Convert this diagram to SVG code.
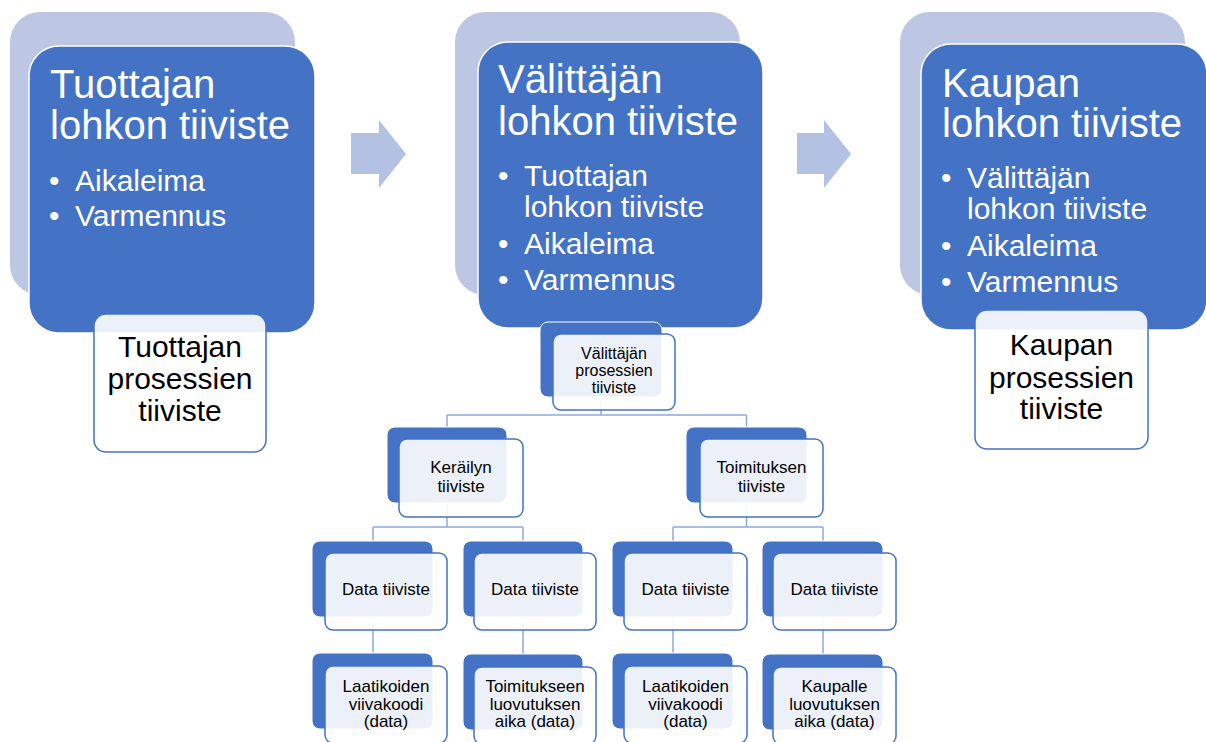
<svg xmlns="http://www.w3.org/2000/svg" width="1206" height="742" viewBox="0 0 1206 742">
<style>
.back{fill:#bdc7e3}
.front{fill:#4472c4;stroke:#ffffff;stroke-width:1.5}
.arrow{fill:#b3c1e3}
.proc{fill:#ffffff;fill-opacity:0.9;stroke:#4472c4;stroke-width:1.5}
.dark{fill:#4472c4;stroke:#ffffff;stroke-width:1}
.lite{fill:#ffffff;fill-opacity:0.9;stroke:#4472c4;stroke-width:1.5}
.title{font-family:"Liberation Sans",Arial,sans-serif;font-size:40px;fill:#ffffff}
.bul{font-family:"Liberation Sans",Arial,sans-serif;font-size:30px;fill:#ffffff}
.ptxt{font-family:"Liberation Sans",Arial,sans-serif;font-size:30px;fill:#000000;text-anchor:middle}
.stxt{font-family:"Liberation Sans",Arial,sans-serif;font-size:17px;fill:#000000;text-anchor:middle}
.conn{fill:none;stroke:#8eaadb;stroke-width:1.5}
</style>

<g id="arrows">
<polygon class="arrow" points="351,133 379,133 379,120 406,154 379,188 379,174 351,174"/>
<polygon class="arrow" points="797,133 824,133 824,120 851,154 824,188 824,174 797,174"/>
</g>

<g id="tuottajan-lohko">
<rect class="back" x="10" y="12" width="285" height="283" rx="30"/>
<rect class="front" x="29" y="46" width="286" height="287" rx="30"/>
<text class="title" x="50" y="98">Tuottajan</text>
<text class="title" x="50" y="139">lohkon tiiviste</text>
<text class="bul" x="49" y="191">•</text>
<text class="bul" x="75" y="191">Aikaleima</text>
<text class="bul" x="49" y="226">•</text>
<text class="bul" x="75" y="226">Varmennus</text>
</g>
<g id="tuottajan-prosessit">
<rect class="proc" x="94" y="314" width="172" height="138" rx="12"/>
<text class="ptxt" x="180" y="357">Tuottajan</text>
<text class="ptxt" x="180" y="389">prosessien</text>
<text class="ptxt" x="180" y="421">tiiviste</text>
</g>

<g id="valittajan-lohko">
<rect class="back" x="455" y="12" width="285" height="283" rx="30"/>
<rect class="front" x="478" y="42" width="285" height="286" rx="30"/>
<text class="title" x="498" y="93">Välittäjän</text>
<text class="title" x="498" y="135">lohkon tiiviste</text>
<text class="bul" x="498" y="186">•</text>
<text class="bul" x="524" y="186">Tuottajan</text>
<text class="bul" x="524" y="217">lohkon tiiviste</text>
<text class="bul" x="498" y="254">•</text>
<text class="bul" x="524" y="254">Aikaleima</text>
<text class="bul" x="498" y="290">•</text>
<text class="bul" x="524" y="290">Varmennus</text>
</g>

<g id="kaupan-lohko">
<rect class="back" x="900" y="12" width="285" height="283" rx="30"/>
<rect class="front" x="921" y="44" width="286" height="286" rx="30"/>
<text class="title" x="942" y="97">Kaupan</text>
<text class="title" x="942" y="137">lohkon tiiviste</text>
<text class="bul" x="941" y="188">•</text>
<text class="bul" x="967" y="188">Välittäjän</text>
<text class="bul" x="967" y="219">lohkon tiiviste</text>
<text class="bul" x="941" y="256">•</text>
<text class="bul" x="967" y="256">Aikaleima</text>
<text class="bul" x="941" y="292">•</text>
<text class="bul" x="967" y="292">Varmennus</text>
</g>
<g id="kaupan-prosessit">
<rect class="proc" x="975" y="310" width="173" height="139" rx="12"/>
<text class="ptxt" x="1061.5" y="355">Kaupan</text>
<text class="ptxt" x="1061.5" y="388">prosessien</text>
<text class="ptxt" x="1061.5" y="419">tiiviste</text>
</g>

<g id="connectors">
<path class="conn" d="M601,397 V415 M447,415 H746.5 M447,415 V427 M746.5,415 V427"/>
<path class="conn" d="M447,503 V527 M373,527 H523 M373,527 V541 M523,527 V541"/>
<path class="conn" d="M746.5,503 V527 M673,527 H823 M673,527 V541 M823,527 V541"/>
<path class="conn" d="M373,617 V653 M523,617 V654 M673,617 V653 M823,617 V654"/>
</g>

<g id="valittajan-prosessit">
<rect class="dark" x="540" y="322" width="122" height="75" rx="8"/>
<rect class="lite" x="553" y="334" width="122" height="76" rx="8"/>
<text class="stxt" x="614" y="359" style="font-size:16px">Välittäjän</text>
<text class="stxt" x="614" y="376" style="font-size:16px">prosessien</text>
<text class="stxt" x="614" y="393" style="font-size:16px">tiiviste</text>
</g>

<g id="kerailyn">
<rect class="dark" x="387" y="427" width="120" height="76" rx="8"/>
<rect class="lite" x="399" y="439" width="124" height="78" rx="8"/>
<text class="stxt" x="461" y="473">Keräilyn</text>
<text class="stxt" x="461" y="492">tiiviste</text>
</g>

<g id="toimituksen">
<rect class="dark" x="686" y="427" width="121" height="76" rx="8"/>
<rect class="lite" x="700" y="439" width="123" height="78" rx="8"/>
<text class="stxt" x="761.5" y="473">Toimituksen</text>
<text class="stxt" x="761.5" y="492">tiiviste</text>
</g>

<g id="data1">
<rect class="dark" x="312" y="541" width="121" height="76" rx="8"/>
<rect class="lite" x="325" y="553" width="122" height="77" rx="8"/>
<text class="stxt" x="386" y="595">Data tiiviste</text>
</g>
<g id="data2">
<rect class="dark" x="463" y="541" width="120" height="76" rx="8"/>
<rect class="lite" x="474" y="553" width="122" height="77" rx="8"/>
<text class="stxt" x="535" y="595">Data tiiviste</text>
</g>
<g id="data3">
<rect class="dark" x="612" y="541" width="121" height="76" rx="8"/>
<rect class="lite" x="624" y="553" width="123" height="77" rx="8"/>
<text class="stxt" x="685.5" y="595">Data tiiviste</text>
</g>
<g id="data4">
<rect class="dark" x="762" y="541" width="121" height="76" rx="8"/>
<rect class="lite" x="773" y="553" width="123" height="77" rx="8"/>
<text class="stxt" x="834.5" y="595">Data tiiviste</text>
</g>

<g id="laatikoiden1">
<rect class="dark" x="312" y="653" width="121" height="76" rx="8"/>
<rect class="lite" x="325" y="666" width="122" height="77" rx="8"/>
<text class="stxt" x="386" y="692">Laatikoiden</text>
<text class="stxt" x="386" y="710">viivakoodi</text>
<text class="stxt" x="386" y="727">(data)</text>
</g>
<g id="toimitukseen">
<rect class="dark" x="463" y="654" width="120" height="76" rx="8"/>
<rect class="lite" x="474" y="667" width="122" height="77" rx="8"/>
<text class="stxt" x="535" y="692">Toimitukseen</text>
<text class="stxt" x="535" y="710">luovutuksen</text>
<text class="stxt" x="535" y="727">aika (data)</text>
</g>
<g id="laatikoiden2">
<rect class="dark" x="612" y="653" width="121" height="76" rx="8"/>
<rect class="lite" x="624" y="666" width="123" height="77" rx="8"/>
<text class="stxt" x="685.5" y="692">Laatikoiden</text>
<text class="stxt" x="685.5" y="710">viivakoodi</text>
<text class="stxt" x="685.5" y="727">(data)</text>
</g>
<g id="kaupalle">
<rect class="dark" x="762" y="654" width="121" height="76" rx="8"/>
<rect class="lite" x="773" y="667" width="123" height="77" rx="8"/>
<text class="stxt" x="834.5" y="692">Kaupalle</text>
<text class="stxt" x="834.5" y="710">luovutuksen</text>
<text class="stxt" x="834.5" y="727">aika (data)</text>
</g>
</svg>
